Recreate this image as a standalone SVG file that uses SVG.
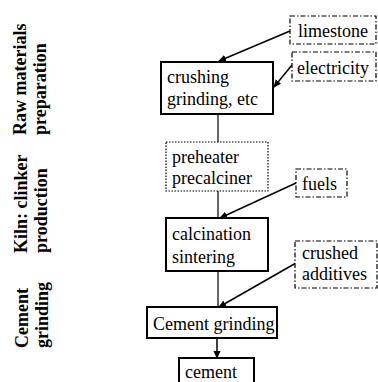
<svg xmlns="http://www.w3.org/2000/svg" width="378" height="382" viewBox="0 0 378 382">
<style>
text{font-family:"Liberation Serif";font-size:18px;fill:#000}
.lbl{font-weight:bold}
.main{fill:#fff;stroke:#000;stroke-width:2}
.dd{fill:#fff;stroke:#000;stroke-width:1.2;stroke-dasharray:5 2 1.5 2}
.dot{fill:#fff;stroke:#000;stroke-width:1.2;stroke-dasharray:1.5 1.5}
.ln{stroke:#000;stroke-width:1.2;fill:none}
.ar{stroke:#000;stroke-width:1.5;fill:none;marker-end:url(#ah)}
</style>
<defs>
<marker id="ah" markerWidth="8" markerHeight="8" refX="7" refY="4" orient="auto" markerUnits="userSpaceOnUse">
<path d="M0,0.5 L8,4 L0,7.5 Z" fill="#000"/>
</marker>
</defs>
<g id="stage-labels">
<g id="label-raw"><text class="lbl" transform="translate(26,135) rotate(-90)">Raw materials</text><text class="lbl" transform="translate(46,135) rotate(-90)">preparation</text></g>
<g id="label-kiln"><text class="lbl" transform="translate(27,253) rotate(-90)">Kiln: clinker</text><text class="lbl" transform="translate(47,253) rotate(-90)">production</text></g>
<g id="label-cement"><text class="lbl" transform="translate(28,348) rotate(-90)">Cement</text><text class="lbl" transform="translate(48,348) rotate(-90)">grinding</text></g>
</g>
<g id="connectors">
<line class="ln" x1="218" y1="114" x2="218" y2="142"/>
<line class="ln" x1="218" y1="191" x2="218" y2="218"/>
<line class="ln" x1="218" y1="271" x2="218" y2="307"/>
<line class="ar" x1="290" y1="31" x2="219" y2="61"/>
<line class="ar" x1="292" y1="65" x2="274" y2="87"/>
<line class="ar" x1="296" y1="183" x2="220" y2="218"/>
<line class="ar" x1="296" y1="263" x2="219" y2="307"/>
<line class="ar" x1="217" y1="338" x2="217" y2="358"/>
</g>
<g id="limestone"><rect class="dd" x="290" y="16" width="86" height="28"/><text x="298" y="37">limestone</text></g>
<g id="electricity"><rect class="dd" x="292" y="52" width="84" height="29"/><text x="297" y="74">electricity</text></g>
<g id="crushing"><rect class="main" x="161" y="62" width="112" height="52"/><text x="167" y="83">crushing</text><text x="167" y="105">grinding, etc</text></g>
<g id="preheater"><rect class="dot" x="166" y="142" width="102" height="49"/><text x="172" y="163">preheater</text><text x="172" y="184">precalciner</text></g>
<g id="fuels"><rect class="dd" x="296" y="169" width="51" height="28"/><text x="302" y="190">fuels</text></g>
<g id="calcination"><rect class="main" x="166" y="218" width="102" height="53"/><text x="172" y="240">calcination</text><text x="172" y="263">sintering</text></g>
<g id="additives"><rect class="dd" x="295" y="241" width="82" height="47"/><text x="302" y="259">crushed</text><text x="302" y="280">additives</text></g>
<g id="cement-grinding"><rect class="main" x="147" y="307" width="130" height="31"/><text x="153" y="330">Cement grinding</text></g>
<g id="cement"><rect class="main" x="179" y="358" width="75" height="30"/><text x="185" y="378">cement</text></g>
</svg>
